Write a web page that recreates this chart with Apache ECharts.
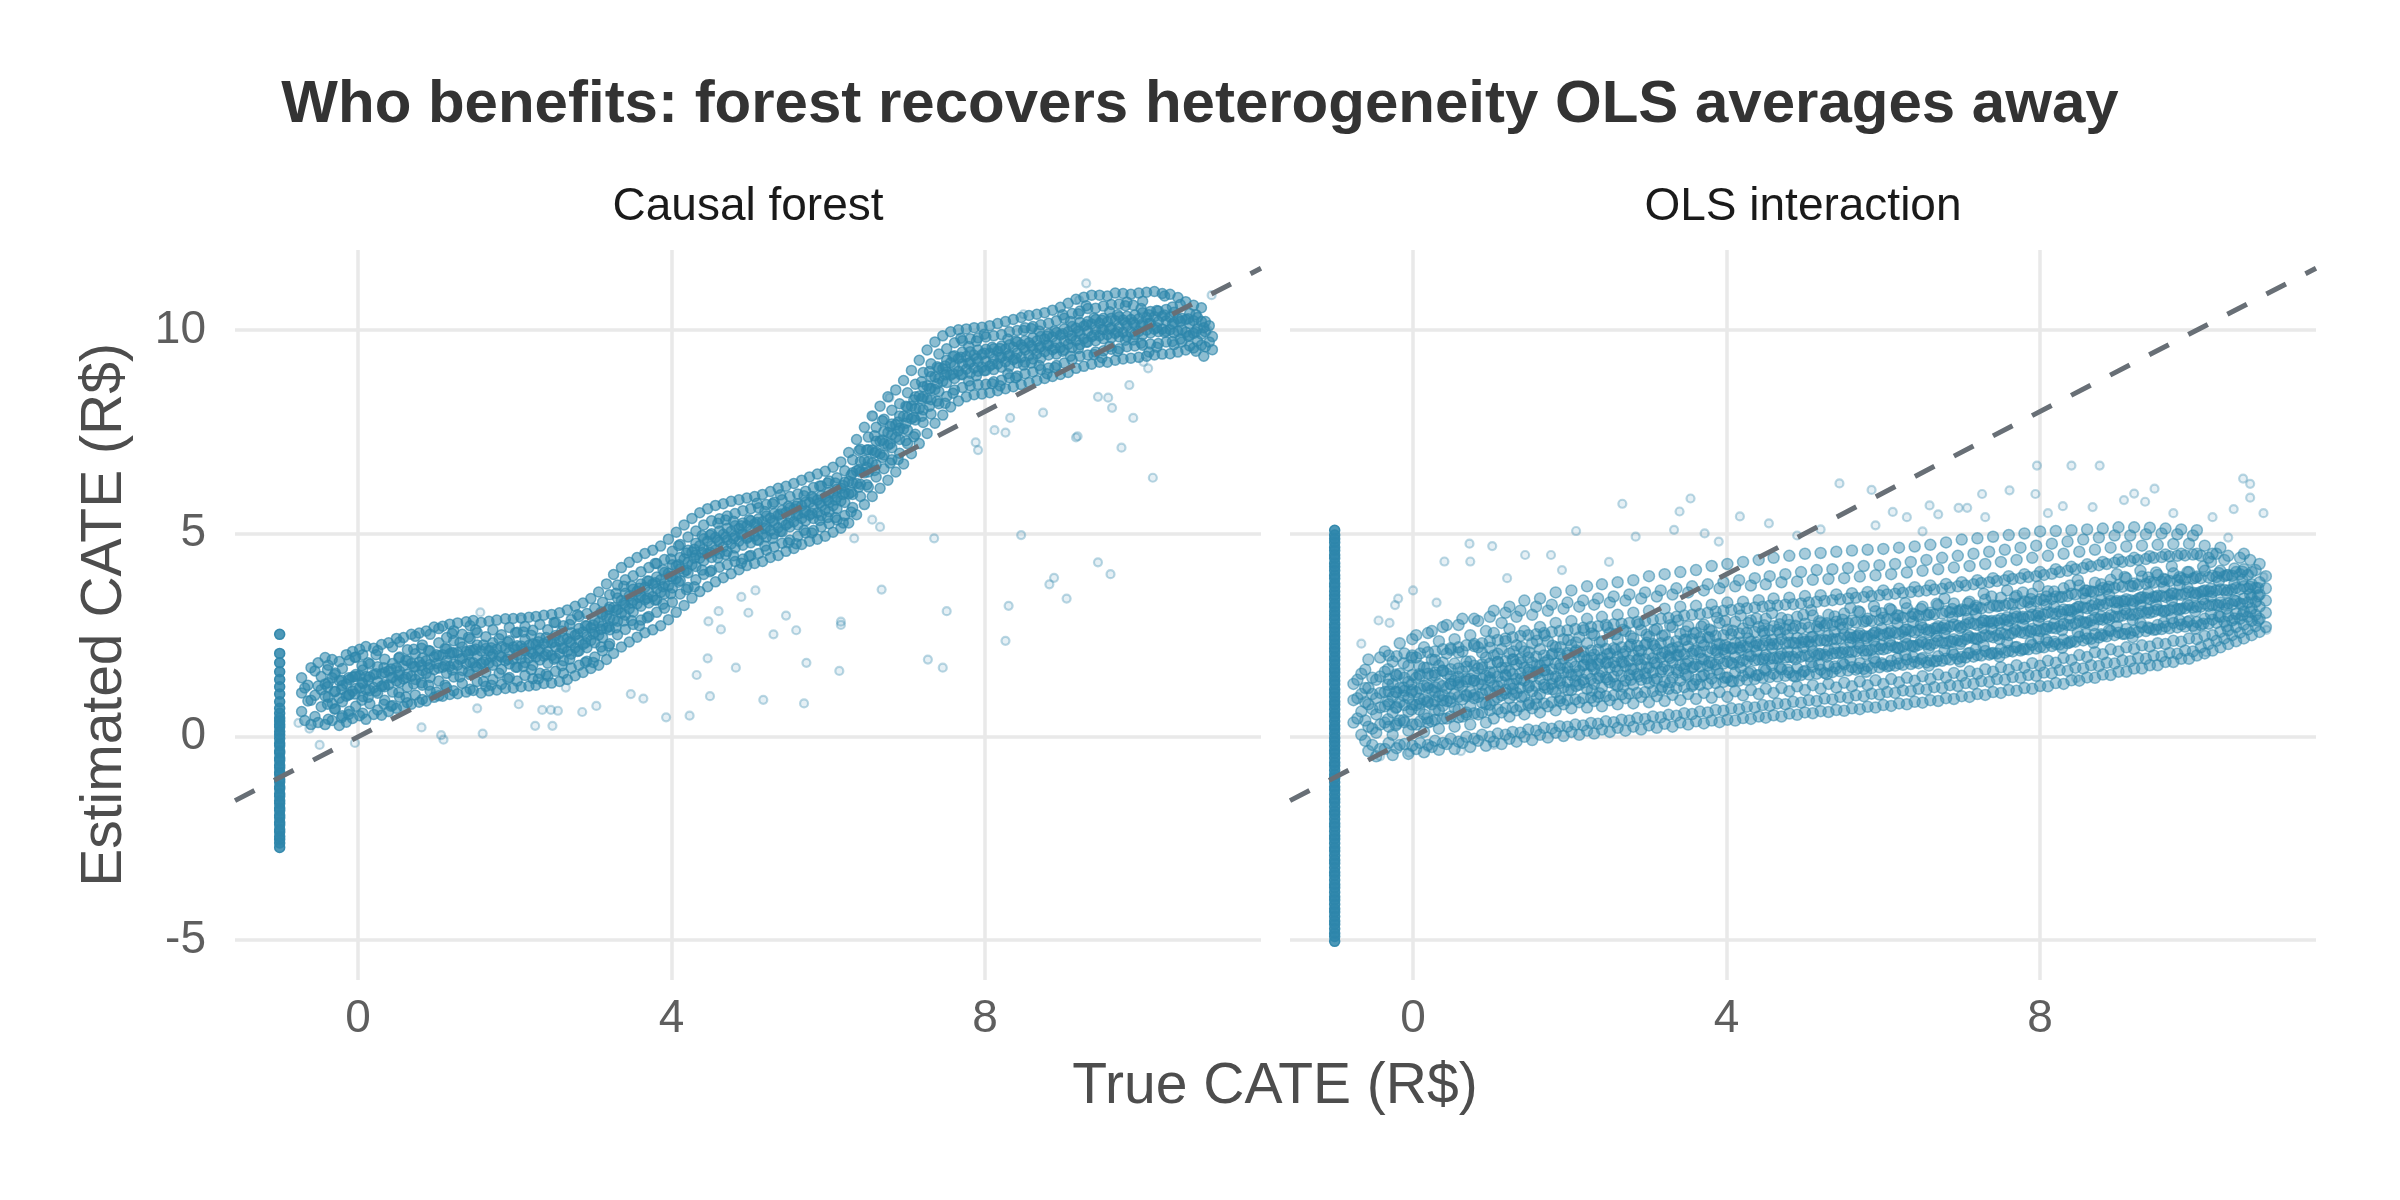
<!DOCTYPE html>
<html>
<head>
<meta charset="utf-8">
<script src="https://cdn.jsdelivr.net/npm/echarts@6/dist/echarts.min.js"></script>
<style>
  html, body { margin: 0; padding: 0; background: #fff; }
  #chart { width: 2400px; height: 1200px; }
</style>
</head>
<body>
<div id="chart"></div>
<script>
// axis ranges and ticks
const xMin = -1.57, xMax = 11.52;
const yMin = -5.98, yMax = 11.97;
const xTicks = [0, 4, 8];
const yTicks = [-5, 0, 5, 10];
const panelTitles = ['Causal forest', 'OLS interaction'];

// untreated units all sit at true CATE = -1
const ctrlX = -1;
const forestCtrlY = [2.52, 2.05, 1.82, 1.6, 1.41, 1.23, 1.05, 0.86, 0.7, 0.58,
  0.46, 0.39, 0.3, 0.24, 0.13, 0.05, -0.04, -0.16, -0.22, -0.35, -0.4, -0.52, -0.58, -0.7,
  -0.76, -0.87, -0.93, -1.05, -1.11, -1.23, -1.28, -1.4, -1.46, -1.57, -1.64, -1.75, -1.81,
  -1.93, -1.99, -2.1, -2.16, -2.28, -2.34, -2.45, -2.52, -2.61, -2.72];
const olsCtrlY = [5.08, 4.96, 4.87, 4.78, 4.66, 4.58, 4.47, 4.39, 4.27, 4.18, 4.09, 3.97,
  3.89, 3.77, 3.69, 3.58, 3.48, 3.39, 3.27, 3.19, 3.08, 2.98, 2.89, 2.77, 2.68, 2.58, 2.47,
  2.39, 2.28, 2.18, 2.09, 1.97, 1.88, 1.78, 1.67, 1.59, 1.48, 1.38, 1.29, 1.17, 1.08, 0.98,
  0.87, 0.79, 0.68, 0.57, 0.49, 0.38, 0.27, 0.19, 0.08, -0.03, -0.12, -0.22, -0.33, -0.41,
  -0.52, -0.63, -0.71, -0.82, -0.93, -1.01, -1.12, -1.23, -1.31, -1.42, -1.53, -1.61, -1.72,
  -1.83, -1.91, -2.02, -2.13, -2.21, -2.32, -2.43, -2.51, -2.62, -2.73, -2.81, -2.92, -3.03,
  -3.11, -3.22, -3.33, -3.41, -3.52, -3.63, -3.71, -3.82, -3.93, -4.01, -4.12, -4.23, -4.31,
  -4.42, -4.53, -4.61, -4.72, -4.83, -4.91, -5.03];

// causal forest cloud: each row is [true CATE, estimated CATE, estimated CATE, ...]
const forestCore = [
  [-0.72, 0.62, 1.08, 1.45], [-0.64, 0.88, 1.27], [-0.55, 0.5, 1.02, 1.62],
  [-0.47, 0.74, 1.16, 1.48], [-0.38, 0.43, 0.97, 1.33, 1.76], [-0.29, 0.69, 1.12, 1.57],
  [-0.2, 0.52, 0.86, 1.26, 1.68], [-0.11, 0.63, 1.04, 1.41, 1.88], [-0.03, 0.75, 1.19, 1.53, 1.96],
  [0.06, 0.58, 0.99, 1.31, 1.64, 2.02], [0.15, 0.81, 1.14, 1.47, 1.79], [0.25, 0.66, 1.07, 1.36, 1.72, 2.12],
  [0.34, 0.9, 1.23, 1.58, 1.91], [0.44, 0.77, 1.1, 1.46, 1.8, 2.21], [0.53, 0.97, 1.34, 1.61, 1.96, 2.33],
  [0.63, 0.84, 1.22, 1.54, 1.87, 2.14], [0.73, 1.03, 1.41, 1.72, 2.04, 2.47], [0.82, 0.92, 1.27, 1.63, 1.93, 2.26],
  [0.92, 1.12, 1.46, 1.78, 2.11, 2.52], [1.03, 1.01, 1.37, 1.69, 1.99, 2.31, 2.66], [1.13, 1.21, 1.56, 1.87, 2.16, 2.44],
  [1.22, 1.13, 1.47, 1.79, 2.06, 2.36, 2.61], [1.33, 1.31, 1.63, 1.93, 2.21, 2.52], [1.43, 1.17, 1.53, 1.84, 2.12, 2.41, 2.73],
  [1.52, 1.36, 1.71, 1.99, 2.26, 2.56], [1.63, 1.24, 1.59, 1.89, 2.17, 2.46], [1.72, 1.41, 1.76, 2.03, 2.31, 2.63],
  [1.83, 1.29, 1.66, 1.96, 2.22, 2.51], [1.93, 1.46, 1.79, 2.07, 2.36, 2.69], [2.03, 1.37, 1.71, 2.01, 2.24, 2.57],
  [2.13, 1.51, 1.83, 2.11, 2.39, 2.71], [2.23, 1.43, 1.76, 2.04, 2.29, 2.62], [2.32, 1.56, 1.89, 2.16, 2.43, 2.76],
  [2.42, 1.49, 1.81, 2.09, 2.34, 2.63], [2.52, 1.61, 1.94, 2.21, 2.49, 2.81], [2.62, 1.56, 1.87, 2.17, 2.43, 2.73],
  [2.72, 1.69, 2.03, 2.31, 2.56, 2.88], [2.82, 1.76, 2.11, 2.37, 2.66, 2.96], [2.92, 1.86, 2.19, 2.46, 2.73, 3.03],
  [3.02, 1.96, 2.31, 2.57, 2.86, 3.16], [3.12, 2.11, 2.44, 2.73, 3.01, 3.31], [3.21, 2.29, 2.63, 2.91, 3.19, 3.49],
  [3.31, 2.51, 2.84, 3.13, 3.41, 3.73], [3.41, 2.64, 2.99, 3.24, 3.53, 3.86], [3.51, 2.76, 3.07, 3.36, 3.63, 3.96],
  [3.61, 2.87, 3.21, 3.47, 3.76, 4.06], [3.71, 2.96, 3.29, 3.56, 3.83, 4.16], [3.81, 3.06, 3.37, 3.64, 3.93, 4.26],
  [3.91, 3.16, 3.51, 3.77, 4.04, 4.36], [4.01, 3.31, 3.66, 3.94, 4.23, 4.56], [4.11, 3.51, 3.84, 4.13, 4.41, 4.73],
  [4.21, 3.67, 4.03, 4.29, 4.59, 4.91], [4.31, 3.86, 4.19, 4.47, 4.76, 5.06], [4.41, 3.99, 4.33, 4.61, 4.87, 5.21],
  [4.51, 4.09, 4.41, 4.69, 4.99, 5.31], [4.61, 4.17, 4.51, 4.79, 5.06, 5.36], [4.71, 4.23, 4.56, 4.84, 5.13, 5.43],
  [4.81, 4.31, 4.64, 4.93, 5.19, 5.49], [4.91, 4.37, 4.71, 4.99, 5.26, 5.56], [5.01, 4.46, 4.77, 5.06, 5.31, 5.61],
  [5.11, 4.51, 4.83, 5.09, 5.36, 5.63], [5.21, 4.59, 4.91, 5.17, 5.43, 5.71], [5.31, 4.67, 4.99, 5.26, 5.49, 5.77],
  [5.41, 4.76, 5.04, 5.31, 5.57, 5.83], [5.51, 4.84, 5.16, 5.41, 5.63, 5.91], [5.61, 4.93, 5.21, 5.47, 5.73, 5.97],
  [5.71, 5.01, 5.31, 5.56, 5.77, 6.04], [5.81, 5.07, 5.37, 5.63, 5.86, 6.13], [5.91, 5.16, 5.44, 5.69, 5.93, 6.17],
  [6.01, 5.24, 5.53, 5.77, 6.01, 6.29], [6.11, 5.33, 5.61, 5.89, 6.09, 6.37], [6.21, 5.44, 5.76, 6.01, 6.26, 6.54],
  [6.31, 5.64, 5.96, 6.24, 6.49, 6.81], [6.41, 5.91, 6.21, 6.51, 6.77, 7.07], [6.51, 6.14, 6.51, 6.77, 7.06, 7.37],
  [6.61, 6.39, 6.69, 7.01, 7.27, 7.61], [6.71, 6.59, 6.93, 7.21, 7.51, 7.81], [6.81, 6.81, 7.11, 7.43, 7.69, 8.03],
  [6.91, 6.97, 7.31, 7.59, 7.89, 8.19], [7.01, 7.21, 7.54, 7.86, 8.11, 8.46], [7.11, 7.44, 7.79, 8.07, 8.36, 8.67],
  [7.21, 7.73, 8.04, 8.36, 8.61, 8.96], [7.31, 7.94, 8.29, 8.57, 8.86, 9.17], [7.41, 8.19, 8.49, 8.81, 9.07, 9.41],
  [7.51, 8.37, 8.71, 8.97, 9.26, 9.54], [7.61, 8.53, 8.81, 9.11, 9.37, 9.69], [7.71, 8.59, 8.91, 9.17, 9.46, 9.74],
  [7.81, 8.63, 8.94, 9.21, 9.47, 9.79], [7.91, 8.66, 8.99, 9.23, 9.51, 9.81], [8.01, 8.67, 9.01, 9.24, 9.53, 9.83],
  [8.11, 8.73, 9.03, 9.29, 9.54, 9.86], [8.21, 8.77, 9.09, 9.34, 9.61, 9.89], [8.31, 8.83, 9.11, 9.39, 9.64, 9.96],
  [8.41, 8.87, 9.19, 9.44, 9.71, 9.99], [8.51, 8.93, 9.21, 9.51, 9.74, 10.06], [8.61, 8.97, 9.29, 9.54, 9.81, 10.09],
  [8.71, 9.03, 9.31, 9.59, 9.84, 10.13], [8.81, 9.07, 9.39, 9.64, 9.91, 10.17], [8.91, 9.13, 9.41, 9.69, 9.94, 10.23],
  [9.01, 9.19, 9.51, 9.74, 10.03, 10.29], [9.11, 9.27, 9.57, 9.86, 10.09, 10.41], [9.21, 9.36, 9.64, 9.91, 10.19, 10.47],
  [9.31, 9.39, 9.71, 9.97, 10.21, 10.53], [9.41, 9.46, 9.74, 10.01, 10.26, 10.54], [9.51, 9.49, 9.79, 10.01, 10.29, 10.59],
  [9.61, 9.53, 9.81, 10.06, 10.29, 10.63], [9.71, 9.54, 9.83, 10.07, 10.33, 10.64], [9.81, 9.59, 9.84, 10.11, 10.34, 10.69],
  [9.91, 9.61, 9.89, 10.13, 10.37], [10.01, 9.63, 9.89, 10.16, 10.43, 10.71], [10.11, 9.66, 9.93, 10.17, 10.46],
  [10.21, 9.67, 9.96, 10.21, 10.47], [10.31, 9.71, 9.97, 10.23, 10.51], [10.41, 9.64, 9.93, 10.19, 10.44],
  [10.51, 9.71, 10.01, 10.29], [10.61, 9.61, 9.87, 10.16, 10.41], [10.71, 9.73, 10.04, 10.31],
  [10.81, 9.59, 9.96, 10.21], [10.9, 9.52, 9.84]
];
// looser points around the forest core, same row layout
const forestEdge = [
  [-0.68, 0.4, 1.2], [-0.6, 0.3, 0.9, 1.7], [-0.51, 0.35, 1.25, 1.82], [-0.42, 0.3, 1.0, 1.3, 1.95],
  [-0.33, 0.4, 0.82, 1.45, 1.9], [-0.24, 0.28, 0.95, 1.38, 1.85], [-0.15, 0.36, 1.0, 1.3, 2.02],
  [-0.07, 0.45, 1.12, 1.47, 2.1], [0.02, 0.52, 1.2, 1.5, 2.15], [0.1, 0.43, 1.16, 1.48, 2.22],
  [0.2, 0.55, 1.21, 1.53, 2.18], [0.3, 0.53, 1.24, 1.55, 2.27], [0.39, 0.62, 1.28, 1.62, 2.31],
  [0.49, 0.7, 1.37, 1.7, 2.42], [0.58, 0.74, 1.42, 1.75, 2.44], [0.68, 0.8, 1.49, 1.8, 2.52],
  [0.78, 0.85, 1.52, 1.84, 2.55], [0.87, 0.88, 1.56, 1.87, 2.6], [0.97, 0.97, 1.65, 1.96, 2.7],
  [1.08, 1.0, 1.71, 2.02, 2.72], [1.17, 1.04, 1.73, 2.04, 2.77], [1.27, 1.06, 1.76, 2.07, 2.8],
  [1.38, 1.1, 1.79, 2.1, 2.83], [1.47, 1.14, 1.82, 2.13, 2.86], [1.57, 1.08, 1.8, 2.11, 2.81],
  [1.67, 1.13, 1.81, 2.12, 2.84], [1.77, 1.15, 1.86, 2.16, 2.87], [1.88, 1.19, 1.87, 2.18, 2.9],
  [1.98, 1.2, 1.9, 2.21, 2.91], [2.08, 1.23, 1.92, 2.23, 2.92], [2.18, 1.25, 1.94, 2.25, 2.94],
  [2.27, 1.27, 1.96, 2.27, 2.96], [2.37, 1.31, 1.98, 2.29, 2.99], [2.47, 1.32, 2.0, 2.31, 3.01],
  [2.57, 1.36, 2.05, 2.35, 3.05], [2.67, 1.41, 2.1, 2.41, 3.12], [2.77, 1.5, 2.19, 2.5, 3.21],
  [2.87, 1.58, 2.27, 2.58, 3.29], [2.97, 1.68, 2.37, 2.68, 3.4], [3.07, 1.76, 2.5, 2.81, 3.56],
  [3.17, 1.9, 2.67, 2.98, 3.76], [3.26, 2.05, 2.87, 3.18, 3.99], [3.36, 2.21, 3.04, 3.35, 4.16],
  [3.46, 2.33, 3.15, 3.46, 4.29], [3.56, 2.45, 3.27, 3.58, 4.41], [3.66, 2.56, 3.37, 3.68, 4.51],
  [3.76, 2.63, 3.45, 3.76, 4.59], [3.86, 2.73, 3.55, 3.86, 4.69], [3.96, 2.88, 3.71, 4.02, 4.86],
  [4.06, 3.06, 3.89, 4.2, 5.03], [4.16, 3.23, 4.06, 4.37, 5.21], [4.26, 3.41, 4.23, 4.54, 5.37],
  [4.36, 3.57, 4.39, 4.7, 5.51], [4.46, 3.69, 4.5, 4.81, 5.61], [4.56, 3.81, 4.59, 4.9, 5.69],
  [4.66, 3.91, 4.67, 4.98, 5.73], [4.76, 4.01, 4.74, 5.05, 5.79], [4.86, 4.11, 4.81, 5.12, 5.83],
  [4.96, 4.21, 4.88, 5.19, 5.87], [5.06, 4.26, 4.93, 5.24, 5.91], [5.16, 4.31, 4.98, 5.29, 5.96],
  [5.26, 4.41, 5.07, 5.38, 6.03], [5.36, 4.46, 5.14, 5.45, 6.11], [5.46, 4.56, 5.21, 5.52, 6.16],
  [5.56, 4.63, 5.29, 5.6, 6.23], [5.66, 4.73, 5.37, 5.68, 6.31], [5.76, 4.81, 5.45, 5.76, 6.39],
  [5.86, 4.86, 5.51, 5.82, 6.46], [5.96, 4.93, 5.58, 5.89, 6.53], [6.06, 5.03, 5.68, 5.99, 6.63],
  [6.16, 5.13, 5.8, 6.11, 6.76], [6.26, 5.26, 5.97, 6.28, 6.99], [6.36, 5.46, 6.23, 6.54, 7.31],
  [6.46, 5.71, 6.49, 6.8, 7.61], [6.56, 5.91, 6.74, 7.05, 7.89], [6.66, 6.11, 6.96, 7.27, 8.13],
  [6.76, 6.31, 7.17, 7.48, 8.36], [6.86, 6.51, 7.36, 7.67, 8.53], [6.96, 6.71, 7.57, 7.88, 8.76],
  [7.06, 6.96, 7.82, 8.13, 9.01], [7.16, 7.21, 8.07, 8.38, 9.26], [7.26, 7.46, 8.32, 8.63, 9.51],
  [7.36, 7.71, 8.54, 8.85, 9.71], [7.46, 7.91, 8.74, 9.05, 9.86], [7.56, 8.11, 8.89, 9.2, 9.96],
  [7.66, 8.26, 8.99, 9.3, 10.01], [7.76, 8.36, 9.04, 9.35, 10.03], [7.86, 8.41, 9.07, 9.38, 10.06],
  [7.96, 8.43, 9.09, 9.4, 10.07], [8.06, 8.46, 9.12, 9.43, 10.11], [8.16, 8.51, 9.17, 9.48, 10.16],
  [8.26, 8.56, 9.22, 9.53, 10.21], [8.36, 8.61, 9.27, 9.58, 10.26], [8.46, 8.66, 9.33, 9.64, 10.31],
  [8.56, 8.71, 9.38, 9.69, 10.36], [8.66, 8.76, 9.42, 9.73, 10.39], [8.76, 8.81, 9.47, 9.78, 10.43],
  [8.86, 8.86, 9.52, 9.83, 10.49], [8.96, 8.91, 9.57, 9.88, 10.56], [9.06, 8.96, 9.65, 9.96, 10.66],
  [9.16, 9.06, 9.74, 10.05, 10.76], [9.26, 9.11, 9.79, 10.1, 10.81], [9.36, 9.16, 9.84, 10.15, 10.86],
  [9.46, 9.21, 9.86, 10.17, 10.86], [9.56, 9.21, 9.89, 10.2, 10.84], [9.66, 9.26, 9.92, 10.23, 10.91],
  [9.76, 9.29, 9.94, 10.25, 10.9], [9.86, 9.31, 9.95, 10.26, 10.88], [9.96, 9.33, 9.97, 10.28, 10.91],
  [10.06, 9.36, 10.0, 10.31, 10.93], [10.16, 9.39, 10.02, 10.33, 10.95], [10.26, 9.41, 10.03, 10.34, 10.9],
  [10.36, 9.42, 10.01, 10.32, 10.88], [10.46, 9.46, 9.97, 10.28, 10.8], [10.56, 9.51, 9.95, 10.26, 10.7],
  [10.66, 9.56, 9.92, 10.23, 10.61], [10.76, 9.63, 9.9, 10.21, 10.55], [10.86, 9.71, 10.11]
];
// more forest points in between, same row layout
const forestMid = [
  [-0.39, 0.8, 1.23, 1.65], [-0.3, 0.68, 1.11, 1.53], [-0.21, 0.47, 1.17, 1.39], [-0.12, 0.55, 1.03, 1.45],
  [-0.04, 1.05, 1.48, 1.95], [0.05, 0.9, 1.33, 1.75], [0.13, 0.97, 1.4, 1.82], [0.23, 1.12, 1.55, 2.02],
  [0.33, 0.8, 1.28, 1.7], [0.42, 0.75, 1.45, 1.67], [0.52, 1.09, 1.52, 1.94], [0.61, 0.98, 1.46, 1.88],
  [0.71, 1.3, 1.73, 2.15], [0.81, 1.33, 1.76, 2.18], [0.9, 1.27, 1.7, 2.12], [1.0, 1.1, 1.8, 2.02],
  [1.11, 1.27, 1.75, 2.17], [1.2, 1.64, 2.07, 2.54], [1.3, 1.47, 1.9, 2.32], [1.41, 1.6, 2.03, 2.45],
  [1.5, 1.73, 2.16, 2.63], [1.6, 1.36, 1.84, 2.26], [1.7, 1.27, 1.97, 2.19], [1.8, 1.56, 1.99, 2.41],
  [1.91, 1.43, 1.91, 2.33], [2.01, 1.71, 2.14, 2.56], [2.11, 1.73, 2.16, 2.58], [2.21, 1.65, 2.08, 2.5],
  [2.3, 1.42, 2.12, 2.34], [2.4, 1.54, 2.02, 2.44], [2.5, 1.91, 2.34, 2.81], [2.6, 1.75, 2.18, 2.6],
  [2.7, 1.91, 2.34, 2.76], [2.8, 2.1, 2.53, 3.0], [2.9, 1.83, 2.31, 2.73], [3.0, 1.83, 2.53, 2.75],
  [3.1, 2.21, 2.64, 3.06], [3.2, 2.23, 2.71, 3.13], [3.29, 2.68, 3.11, 3.53], [3.39, 2.85, 3.28, 3.7],
  [3.49, 2.86, 3.29, 3.71], [3.59, 2.73, 3.43, 3.65], [3.69, 2.93, 3.41, 3.83], [3.79, 3.36, 3.79, 4.26],
  [3.89, 3.26, 3.69, 4.11], [3.99, 3.52, 3.95, 4.37], [4.09, 3.8, 4.23, 4.7], [4.19, 3.62, 4.1, 4.52],
  [4.29, 3.69, 4.39, 4.61], [4.39, 4.1, 4.53, 4.95], [4.49, 4.06, 4.54, 4.96], [4.59, 4.4, 4.83, 5.25],
  [4.69, 4.48, 4.91, 5.33], [4.79, 4.45, 4.88, 5.3], [4.89, 4.27, 4.97, 5.19], [4.99, 4.44, 4.92, 5.34],
  [5.09, 4.84, 5.27, 5.74], [5.19, 4.69, 5.12, 5.54], [5.29, 4.88, 5.31, 5.73], [5.39, 5.05, 5.48, 5.95],
  [5.49, 4.77, 5.25, 5.67], [5.59, 4.75, 5.45, 5.67], [5.69, 5.08, 5.51, 5.93], [5.79, 5.01, 5.49, 5.91],
  [5.89, 5.32, 5.75, 6.17], [5.99, 5.39, 5.82, 6.24], [6.09, 5.39, 5.82, 6.24], [6.19, 5.26, 5.96, 6.18],
  [6.29, 5.53, 6.01, 6.43], [6.39, 6.14, 6.57, 7.04], [6.49, 6.2, 6.63, 7.05], [6.59, 6.55, 6.98, 7.4],
  [6.69, 6.87, 7.3, 7.77], [6.79, 6.73, 7.21, 7.63], [6.89, 6.82, 7.52, 7.74], [6.99, 7.28, 7.71, 8.13],
  [7.09, 7.38, 7.86, 8.28], [7.19, 7.88, 8.31, 8.73], [7.29, 8.13, 8.56, 8.98], [7.39, 8.25, 8.68, 9.1],
  [7.49, 8.2, 8.9, 9.12], [7.59, 8.45, 8.93, 9.35], [7.69, 8.9, 9.33, 9.8], [7.79, 8.75, 9.18, 9.6],
  [7.89, 8.88, 9.31, 9.73], [7.99, 9.0, 9.43, 9.9], [8.09, 8.68, 9.16, 9.58], [8.19, 8.63, 9.33, 9.55],
  [8.29, 8.93, 9.36, 9.78], [8.39, 8.83, 9.31, 9.73], [8.49, 9.14, 9.57, 9.99], [8.59, 9.19, 9.62, 10.04],
  [8.69, 9.13, 9.56, 9.98], [8.79, 8.93, 9.63, 9.85], [8.89, 9.08, 9.56, 9.98], [8.99, 9.48, 9.91, 10.38],
  [9.09, 9.36, 9.79, 10.21], [9.19, 9.55, 9.98, 10.4], [9.29, 9.7, 10.13, 10.6], [9.39, 9.4, 9.88, 10.3],
  [9.49, 9.32, 10.02, 10.24], [9.59, 9.6, 10.03, 10.45], [9.69, 9.48, 9.96, 10.38], [9.79, 9.75, 10.18, 10.6],
  [9.89, 9.76, 10.19, 10.61], [9.99, 9.68, 10.11, 10.53], [10.09, 9.46, 10.16, 10.38], [10.19, 9.58, 10.06, 10.48],
  [10.29, 9.94, 10.37, 10.84], [10.39, 9.72, 10.15, 10.57], [10.49, 9.78, 10.21, 10.63], [10.59, 9.85, 10.28],
  [10.69, 9.48, 9.96, 10.38], [10.79, 9.36, 10.06]
];
const forestStray = [
  [-0.76, 0.34], [-0.62, 0.2], [-0.49, -0.2], [-0.04, -0.15], [0.81, 0.23], [1.06, 0.04], [1.09, -0.07],
  [1.52, 0.7], [1.56, 3.06], [1.59, 0.08], [2.05, 0.8], [2.08, 2.9], [2.26, 0.27], [2.35, 0.66],
  [2.46, 0.66], [2.48, 0.27], [2.55, 0.64], [2.65, 1.21], [2.86, 0.61], [3.04, 0.76], [3.48, 1.05],
  [3.64, 0.94], [3.93, 0.48], [4.23, 0.52], [4.32, 1.52], [4.46, 1.93], [4.47, 2.84], [4.49, 1.0],
  [4.6, 3.09], [4.63, 2.64], [4.82, 1.7], [4.89, 3.44], [4.98, 3.05], [5.07, 3.6], [5.17, 0.91],
  [5.3, 2.52], [5.46, 2.98], [5.59, 2.62], [5.69, 0.82], [5.72, 1.82], [6.14, 1.62], [6.16, 2.83],
  [6.16, 2.75], [6.33, 4.88], [6.56, 5.34], [6.66, 5.16], [6.57, 7.89], [6.68, 3.62], [6.78, 8.34],
  [7.27, 1.9], [7.35, 4.88], [7.46, 1.7], [7.51, 3.09], [7.88, 7.24], [7.91, 7.05], [8.12, 7.54],
  [8.26, 7.48], [8.26, 2.36], [8.3, 3.22], [8.32, 7.84], [8.46, 4.96], [8.49, 10.39], [8.74, 7.97],
  [8.82, 3.75], [8.88, 3.91], [9.04, 3.4], [9.16, 7.36], [9.18, 7.39], [9.2, 10.74], [9.29, 11.15],
  [9.44, 8.36], [9.44, 4.29], [9.57, 8.34], [9.6, 4.0], [9.62, 8.09], [9.74, 7.11], [9.84, 8.65],
  [9.89, 7.84], [10.02, 9.22], [10.08, 9.06], [10.14, 6.37], [10.84, 10.0], [10.89, 10.86]
];

// OLS interaction cloud, same row layout
const olsCore = [
  [-0.76, 0.35, 0.9, 1.3], [-0.66, 0.05, 0.62, 1.05, 1.55], [-0.57, -0.35, 0.25, 0.8, 1.2, 1.9],
  [-0.47, -0.48, 0.1, 0.55, 0.95, 1.4], [-0.36, -0.3, 0.35, 0.75, 1.1, 1.6, 2.1],
  [-0.26, -0.45, 0.05, 0.6, 0.98, 1.3, 1.85], [-0.17, -0.2, 0.4, 0.85, 1.2, 1.55, 2.3],
  [-0.06, -0.42, 0.15, 0.62, 0.95, 1.35, 1.75], [0.04, -0.3, 0.3, 0.78, 1.1, 1.45, 1.95, 2.5],
  [0.14, -0.38, 0.12, 0.55, 0.92, 1.25, 1.7, 2.2], [0.24, -0.25, 0.38, 0.8, 1.15, 1.5, 1.9, 2.6],
  [0.33, -0.32, 0.2, 0.65, 1.0, 1.3, 1.75, 2.35], [0.43, -0.18, 0.45, 0.88, 1.2, 1.55, 2.05, 2.75],
  [0.53, -0.3, 0.25, 0.7, 1.05, 1.38, 1.8, 2.4], [0.63, -0.15, 0.5, 0.92, 1.25, 1.6, 2.1, 2.9],
  [0.73, -0.25, 0.3, 0.75, 1.1, 1.42, 1.85, 2.5], [0.83, -0.1, 0.55, 0.98, 1.3, 1.68, 2.2, 2.85],
  [0.93, -0.22, 0.35, 0.8, 1.15, 1.5, 1.95, 2.6], [1.03, -0.12, 0.45, 0.9, 1.25, 1.58, 2.0, 2.55, 3.1],
  [1.13, -0.18, 0.6, 1.02, 1.35, 1.7, 2.15, 2.8], [1.23, -0.05, 0.5, 0.95, 1.3, 1.62, 2.05, 2.65, 3.2],
  [1.32, -0.12, 0.65, 1.08, 1.42, 1.78, 2.25, 2.95], [1.42, 0.0, 0.55, 1.0, 1.38, 1.7, 2.1, 2.6, 3.35],
  [1.52, -0.08, 0.7, 1.12, 1.48, 1.82, 2.3, 3.0], [1.62, 0.05, 0.6, 1.05, 1.42, 1.75, 2.15, 2.7, 3.4],
  [1.72, -0.02, 0.75, 1.18, 1.52, 1.88, 2.35, 3.1], [1.82, 0.1, 0.65, 1.1, 1.48, 1.8, 2.2, 2.8, 3.55],
  [1.92, 0.02, 0.8, 1.22, 1.58, 1.92, 2.4, 3.15], [2.02, 0.12, 0.7, 1.15, 1.52, 1.85, 2.25, 2.85, 3.6],
  [2.12, 0.05, 0.85, 1.28, 1.62, 1.98, 2.45, 3.2], [2.22, 0.15, 0.72, 1.18, 1.55, 1.9, 2.3, 2.9, 3.7],
  [2.31, 0.08, 0.88, 1.3, 1.66, 2.02, 2.5, 3.25], [2.41, 0.18, 0.75, 1.22, 1.6, 1.94, 2.35, 2.95, 3.75],
  [2.51, 0.12, 0.9, 1.34, 1.7, 2.05, 2.55, 3.3], [2.61, 0.22, 0.8, 1.25, 1.63, 1.97, 2.4, 3.0, 3.8],
  [2.71, 0.15, 0.95, 1.38, 1.74, 2.1, 2.6, 3.35], [2.81, 0.25, 0.82, 1.28, 1.66, 2.0, 2.42, 3.05, 3.85],
  [2.91, 0.18, 0.98, 1.4, 1.77, 2.12, 2.62, 3.4], [3.01, 0.28, 0.85, 1.32, 1.7, 2.04, 2.46, 3.1, 3.95],
  [3.11, 0.22, 1.0, 1.43, 1.8, 2.15, 2.65, 3.45], [3.21, 0.32, 0.88, 1.35, 1.73, 2.08, 2.5, 3.15, 4.0],
  [3.31, 0.25, 1.03, 1.46, 1.83, 2.18, 2.7, 3.5], [3.41, 0.35, 0.9, 1.38, 1.76, 2.1, 2.53, 3.2, 4.05],
  [3.51, 0.3, 1.05, 1.49, 1.86, 2.22, 2.72, 3.55], [3.61, 0.38, 0.93, 1.4, 1.78, 2.13, 2.56, 3.22, 4.1],
  [3.71, 0.33, 1.08, 1.52, 1.9, 2.25, 2.76, 3.6], [3.81, 0.4, 0.96, 1.43, 1.82, 2.17, 2.6, 3.25, 4.2],
  [3.91, 0.36, 1.1, 1.55, 1.93, 2.28, 2.8, 3.65], [4.01, 0.42, 0.98, 1.46, 1.85, 2.2, 2.63, 3.3, 4.25],
  [4.11, 0.4, 1.12, 1.58, 1.96, 2.31, 2.83, 3.7], [4.21, 0.46, 1.02, 1.5, 1.88, 2.23, 2.66, 3.32, 4.3],
  [4.31, 0.44, 1.15, 1.6, 1.98, 2.34, 2.86, 3.72], [4.41, 0.5, 1.05, 1.52, 1.9, 2.26, 2.7, 3.36, 4.35],
  [4.5, 0.47, 1.18, 1.63, 2.01, 2.37, 2.9, 3.75], [4.6, 0.53, 1.08, 1.55, 1.93, 2.28, 2.72, 3.4, 4.4],
  [4.7, 0.5, 1.2, 1.66, 2.04, 2.4, 2.92, 3.8], [4.8, 0.57, 1.12, 1.58, 1.96, 2.31, 2.75, 3.42, 4.45],
  [4.9, 0.54, 1.24, 1.69, 2.07, 2.43, 2.95, 3.82], [5.0, 0.6, 1.15, 1.62, 2.0, 2.34, 2.78, 3.46, 4.5],
  [5.1, 0.58, 1.27, 1.72, 2.1, 2.46, 2.98, 3.86], [5.2, 0.63, 1.18, 1.65, 2.03, 2.37, 2.8, 3.48, 4.52],
  [5.3, 0.61, 1.3, 1.75, 2.13, 2.48, 3.0, 3.88], [5.4, 0.66, 1.21, 1.68, 2.06, 2.4, 2.83, 3.5, 4.55],
  [5.5, 0.64, 1.33, 1.78, 2.16, 2.51, 3.03, 3.9], [5.6, 0.7, 1.24, 1.71, 2.09, 2.43, 2.86, 3.53, 4.58],
  [5.7, 0.68, 1.36, 1.81, 2.19, 2.54, 3.06, 3.94], [5.8, 0.74, 1.27, 1.74, 2.12, 2.46, 2.9, 3.56, 4.6],
  [5.9, 0.72, 1.39, 1.84, 2.22, 2.57, 3.09, 3.97], [6.0, 0.78, 1.3, 1.77, 2.15, 2.5, 2.93, 3.6, 4.62],
  [6.1, 0.76, 1.42, 1.87, 2.25, 2.6, 3.12, 4.0], [6.2, 0.82, 1.34, 1.8, 2.18, 2.53, 2.97, 3.64, 4.65],
  [6.3, 0.8, 1.45, 1.9, 2.28, 2.64, 3.16, 4.04], [6.4, 0.86, 1.38, 1.84, 2.22, 2.57, 3.01, 3.68, 4.68],
  [6.5, 0.84, 1.49, 1.94, 2.32, 2.68, 3.2, 4.08], [6.6, 0.9, 1.42, 1.88, 2.26, 2.61, 3.05, 3.72, 4.72],
  [6.7, 0.88, 1.53, 1.98, 2.36, 2.72, 3.24, 4.12], [6.8, 0.95, 1.46, 1.92, 2.3, 2.65, 3.09, 3.76, 4.78],
  [6.9, 0.93, 1.57, 2.02, 2.4, 2.76, 3.28, 4.16], [7.0, 1.0, 1.5, 1.96, 2.35, 2.7, 3.13, 3.8, 4.85],
  [7.1, 0.98, 1.61, 2.06, 2.45, 2.8, 3.32, 4.2], [7.2, 1.05, 1.55, 2.01, 2.4, 2.75, 3.18, 3.85, 4.88],
  [7.3, 1.03, 1.66, 2.11, 2.5, 2.85, 3.37, 4.25], [7.4, 1.1, 1.6, 2.06, 2.45, 2.8, 3.23, 3.9, 4.92],
  [7.5, 1.08, 1.71, 2.16, 2.55, 2.9, 3.42, 4.3], [7.6, 1.15, 1.65, 2.11, 2.5, 2.85, 3.28, 3.95, 4.96],
  [7.7, 1.13, 1.76, 2.21, 2.6, 2.95, 3.47, 4.35], [7.8, 1.2, 1.7, 2.16, 2.55, 2.9, 3.33, 4.0, 5.0],
  [7.9, 1.18, 1.81, 2.26, 2.65, 3.0, 3.52, 4.4], [8.0, 1.25, 1.75, 2.21, 2.6, 2.95, 3.38, 4.05, 5.05],
  [8.1, 1.24, 1.87, 2.32, 2.71, 3.06, 3.58, 4.45], [8.2, 1.32, 1.82, 2.28, 2.67, 3.02, 3.45, 4.12, 5.06],
  [8.3, 1.3, 1.94, 2.39, 2.78, 3.13, 3.65, 4.5], [8.4, 1.39, 1.89, 2.35, 2.74, 3.09, 3.52, 4.18, 5.08],
  [8.5, 1.38, 2.01, 2.46, 2.85, 3.2, 3.72, 4.55], [8.6, 1.46, 1.96, 2.42, 2.81, 3.16, 3.59, 4.24, 5.1],
  [8.7, 1.45, 2.08, 2.53, 2.92, 3.27, 3.79, 4.6], [8.8, 1.53, 2.03, 2.49, 2.88, 3.23, 3.66, 4.3, 5.12],
  [8.9, 1.52, 2.15, 2.6, 2.99, 3.34, 3.86, 4.65], [9.0, 1.6, 2.1, 2.56, 2.95, 3.3, 3.73, 4.36, 5.15],
  [9.1, 1.6, 2.2, 2.65, 3.03, 3.38, 3.9, 4.68], [9.2, 1.68, 2.16, 2.61, 3.0, 3.34, 3.77, 4.4, 5.15],
  [9.3, 1.68, 2.25, 2.7, 3.08, 3.43, 3.94, 4.7], [9.4, 1.76, 2.22, 2.66, 3.05, 3.39, 3.81, 4.44, 5.14],
  [9.5, 1.76, 2.3, 2.75, 3.13, 3.47, 3.98, 4.72], [9.6, 1.84, 2.28, 2.71, 3.1, 3.44, 3.86, 4.48, 5.12],
  [9.7, 1.84, 2.36, 2.8, 3.18, 3.52, 4.02, 4.74], [9.8, 1.92, 2.34, 2.76, 3.15, 3.49, 3.9, 4.5, 5.1],
  [9.9, 1.92, 2.42, 2.85, 3.23, 3.56, 4.05, 4.75], [10.0, 2.0, 2.4, 2.82, 3.2, 3.53, 3.94, 4.5, 5.08],
  [10.1, 2.05, 2.48, 2.9, 3.27, 3.6, 4.08, 4.7], [10.2, 2.12, 2.5, 2.88, 3.24, 3.56, 3.96, 4.5],
  [10.3, 2.2, 2.58, 2.95, 3.3, 3.62, 4.08, 4.65], [10.4, 2.28, 2.62, 2.98, 3.28, 3.6, 3.98, 4.45],
  [10.5, 2.35, 2.7, 3.02, 3.34, 3.66, 4.05], [10.6, 2.42, 2.76, 3.08, 3.4, 3.7, 4.12, 4.5],
  [10.7, 2.5, 2.85, 3.15, 3.42, 3.75, 4.05], [10.8, 2.58, 2.9, 3.2, 3.5, 3.8, 4.25],
  [10.88, 2.7, 3.05, 3.35, 3.65, 3.95]
];
const olsFill = [
  [-0.71, 0.45, 0.95, 1.4], [-0.61, -0.1, 0.4, 0.85, 1.2, 1.65], [-0.52, -0.2, 0.2, 0.68, 1.05, 1.45],
  [-0.42, -0.3, 0.3, 0.72, 1.08, 1.48, 1.95], [-0.31, -0.15, 0.25, 0.8, 1.12, 1.42, 2.0],
  [-0.21, -0.28, 0.32, 0.73, 1.1, 1.5, 1.98], [-0.11, -0.18, 0.36, 0.78, 1.13, 1.45, 2.05],
  [-0.01, -0.22, 0.3, 0.8, 1.15, 1.52, 2.0, 2.4], [0.09, -0.15, 0.38, 0.82, 1.18, 1.5, 2.05],
  [0.19, -0.2, 0.35, 0.85, 1.2, 1.55, 2.08, 2.55], [0.28, -0.1, 0.42, 0.88, 1.22, 1.58, 2.1],
  [0.38, -0.15, 0.45, 0.9, 1.25, 1.62, 2.15, 2.7], [0.48, -0.05, 0.5, 0.95, 1.3, 1.66, 2.18],
  [0.58, -0.12, 0.48, 0.98, 1.33, 1.68, 2.2, 2.75], [0.68, 0.0, 0.55, 1.0, 1.36, 1.72, 2.25],
  [0.78, -0.05, 0.58, 1.03, 1.38, 1.75, 2.28, 2.9], [0.88, 0.05, 0.6, 1.06, 1.42, 1.78, 2.3],
  [0.98, 0.0, 0.65, 1.1, 1.45, 1.8, 2.35, 2.95], [1.08, 0.08, 0.68, 1.12, 1.48, 1.84, 2.38],
  [1.18, 0.05, 0.7, 1.16, 1.52, 1.86, 2.42, 3.05], [1.27, 0.12, 0.72, 1.18, 1.54, 1.9, 2.45],
  [1.37, 0.1, 0.75, 1.2, 1.56, 1.92, 2.48, 3.1], [1.47, 0.18, 0.78, 1.22, 1.58, 1.95, 2.5],
  [1.57, 0.15, 0.8, 1.25, 1.6, 1.97, 2.52, 3.2], [1.67, 0.22, 0.82, 1.28, 1.63, 2.0, 2.55],
  [1.77, 0.2, 0.85, 1.3, 1.66, 2.02, 2.58, 3.25], [1.87, 0.26, 0.88, 1.32, 1.68, 2.04, 2.6],
  [1.97, 0.25, 0.9, 1.35, 1.7, 2.06, 2.62, 3.3], [2.07, 0.3, 0.92, 1.37, 1.72, 2.08, 2.65],
  [2.17, 0.28, 0.95, 1.4, 1.75, 2.1, 2.68, 3.35], [2.27, 0.34, 0.96, 1.42, 1.77, 2.12, 2.7],
  [2.36, 0.32, 0.98, 1.44, 1.79, 2.14, 2.72, 3.4], [2.46, 0.38, 1.0, 1.46, 1.81, 2.16, 2.75],
  [2.56, 0.36, 1.02, 1.48, 1.83, 2.18, 2.77, 3.45], [2.66, 0.42, 1.04, 1.5, 1.85, 2.2, 2.78],
  [2.76, 0.4, 1.06, 1.52, 1.87, 2.22, 2.8, 3.5], [2.86, 0.46, 1.08, 1.54, 1.89, 2.24, 2.82],
  [2.96, 0.44, 1.1, 1.56, 1.91, 2.26, 2.85, 3.55], [3.06, 0.5, 1.12, 1.58, 1.93, 2.28, 2.88],
  [3.16, 0.48, 1.15, 1.6, 1.95, 2.3, 2.9, 3.6], [3.26, 0.54, 1.18, 1.63, 1.98, 2.33, 2.92],
  [3.36, 0.52, 1.2, 1.65, 2.0, 2.35, 2.95, 3.65], [3.46, 0.58, 1.22, 1.68, 2.03, 2.38, 2.98],
  [3.56, 0.56, 1.25, 1.7, 2.05, 2.4, 3.0, 3.7], [3.66, 0.62, 1.28, 1.73, 2.08, 2.43, 3.02],
  [3.76, 0.6, 1.3, 1.75, 2.1, 2.45, 3.05, 3.75], [3.86, 0.66, 1.32, 1.78, 2.13, 2.48, 3.08],
  [3.96, 0.64, 1.35, 1.8, 2.15, 2.5, 3.1, 3.8], [4.06, 0.7, 1.37, 1.82, 2.17, 2.52, 3.12],
  [4.16, 0.68, 1.38, 1.84, 2.19, 2.54, 3.15, 3.85], [4.26, 0.74, 1.4, 1.86, 2.21, 2.56, 3.16],
  [4.36, 0.72, 1.42, 1.88, 2.23, 2.58, 3.18, 3.9], [4.46, 0.78, 1.45, 1.9, 2.25, 2.6, 3.2],
  [4.55, 0.76, 1.47, 1.92, 2.27, 2.62, 3.22, 3.95], [4.65, 0.82, 1.48, 1.93, 2.28, 2.63, 3.23],
  [4.75, 0.8, 1.5, 1.95, 2.3, 2.65, 3.25, 4.0], [4.85, 0.86, 1.5, 1.96, 2.31, 2.66, 3.26],
  [4.95, 0.84, 1.52, 1.97, 2.32, 2.67, 3.28, 4.05], [5.05, 0.9, 1.53, 1.98, 2.34, 2.69, 3.3],
  [5.15, 0.88, 1.55, 2.0, 2.36, 2.71, 3.32, 4.1], [5.25, 0.94, 1.57, 2.02, 2.38, 2.73, 3.34],
  [5.35, 0.92, 1.59, 2.04, 2.4, 2.75, 3.36, 4.12], [5.45, 0.98, 1.61, 2.06, 2.42, 2.77, 3.38],
  [5.55, 0.96, 1.63, 2.08, 2.44, 2.79, 3.4, 4.15], [5.65, 1.02, 1.65, 2.1, 2.46, 2.81, 3.42],
  [5.75, 1.0, 1.67, 2.12, 2.48, 2.83, 3.44, 4.2], [5.85, 1.06, 1.69, 2.14, 2.5, 2.85, 3.46],
  [5.95, 1.04, 1.71, 2.16, 2.52, 2.87, 3.48, 4.22], [6.05, 1.1, 1.73, 2.18, 2.54, 2.89, 3.5],
  [6.15, 1.08, 1.75, 2.2, 2.56, 2.91, 3.52, 4.25], [6.25, 1.14, 1.77, 2.22, 2.58, 2.93, 3.54],
  [6.35, 1.12, 1.79, 2.24, 2.6, 2.95, 3.56, 4.3], [6.45, 1.18, 1.81, 2.26, 2.62, 2.97, 3.58],
  [6.55, 1.16, 1.83, 2.28, 2.64, 2.99, 3.6, 4.35], [6.65, 1.22, 1.85, 2.3, 2.66, 3.01, 3.62],
  [6.75, 1.2, 1.87, 2.32, 2.68, 3.03, 3.64, 4.4], [6.85, 1.27, 1.9, 2.35, 2.71, 3.06, 3.67],
  [6.95, 1.25, 1.92, 2.37, 2.73, 3.08, 3.7, 4.45], [7.05, 1.32, 1.95, 2.4, 2.76, 3.11, 3.72],
  [7.15, 1.3, 1.97, 2.42, 2.78, 3.13, 3.75, 4.5], [7.25, 1.37, 2.0, 2.45, 2.81, 3.16, 3.78],
  [7.35, 1.35, 2.02, 2.47, 2.83, 3.18, 3.8, 4.55], [7.45, 1.42, 2.05, 2.5, 2.86, 3.21, 3.83],
  [7.55, 1.4, 2.07, 2.52, 2.88, 3.23, 3.85, 4.6], [7.65, 1.47, 2.1, 2.55, 2.91, 3.26, 3.88],
  [7.75, 1.45, 2.12, 2.57, 2.93, 3.28, 3.9, 4.65], [7.85, 1.52, 2.15, 2.6, 2.96, 3.31, 3.93],
  [7.95, 1.5, 2.17, 2.62, 2.98, 3.33, 3.95, 4.7], [8.05, 1.58, 2.2, 2.65, 3.01, 3.36, 3.98],
  [8.15, 1.56, 2.23, 2.68, 3.04, 3.39, 4.01, 4.75], [8.25, 1.64, 2.27, 2.72, 3.08, 3.43, 4.05],
  [8.35, 1.62, 2.3, 2.75, 3.11, 3.46, 4.08, 4.8], [8.45, 1.7, 2.34, 2.79, 3.15, 3.5, 4.12],
  [8.55, 1.68, 2.37, 2.82, 3.18, 3.53, 4.15, 4.85], [8.65, 1.76, 2.41, 2.86, 3.22, 3.57, 4.19],
  [8.75, 1.74, 2.44, 2.89, 3.25, 3.6, 4.22, 4.9], [8.85, 1.82, 2.47, 2.92, 3.28, 3.63, 4.25],
  [8.95, 1.8, 2.5, 2.95, 3.31, 3.66, 4.28, 4.95], [9.05, 1.88, 2.53, 2.98, 3.34, 3.69, 4.3],
  [9.15, 1.86, 2.55, 3.0, 3.36, 3.71, 4.32, 4.95], [9.25, 1.94, 2.58, 3.03, 3.39, 3.74, 4.35],
  [9.35, 1.92, 2.6, 3.05, 3.41, 3.76, 4.37, 4.98], [9.45, 2.0, 2.63, 3.08, 3.44, 3.79, 4.4],
  [9.55, 1.98, 2.65, 3.1, 3.46, 3.81, 4.42, 5.0], [9.65, 2.06, 2.67, 3.12, 3.48, 3.83, 4.44],
  [9.75, 2.04, 2.69, 3.14, 3.5, 3.85, 4.45, 4.98], [9.85, 2.12, 2.71, 3.16, 3.52, 3.87, 4.46],
  [9.95, 2.1, 2.73, 3.18, 3.54, 3.89, 4.48, 4.95], [10.05, 2.2, 2.75, 3.2, 3.56, 3.9, 4.45],
  [10.15, 2.28, 2.78, 3.22, 3.58, 3.92, 4.4], [10.25, 2.36, 2.8, 3.24, 3.6, 3.93, 4.5],
  [10.35, 2.42, 2.83, 3.25, 3.61, 3.95, 4.35], [10.45, 2.5, 2.86, 3.26, 3.62, 3.96],
  [10.55, 2.56, 2.9, 3.28, 3.63, 4.0, 4.4], [10.65, 2.64, 2.95, 3.3, 3.64, 3.98],
  [10.75, 2.72, 3.0, 3.32, 3.66, 4.1]
];
// denser middle of the OLS cloud, same row layout
const olsMid = [
  [-0.32, 0.43, 0.87, 1.28, 1.66], [-0.22, 0.28, 0.71, 1.1, 1.53], [-0.12, 0.41, 1.01, 1.21, 1.81],
  [-0.02, 0.67, 1.1, 1.29, 1.95], [0.08, 0.67, 0.94, 1.54, 1.74], [0.18, 0.45, 0.88, 1.27, 1.7],
  [0.28, 0.66, 1.1, 1.51, 1.89], [0.38, 0.76, 1.03, 1.63, 1.83], [0.48, 0.86, 1.29, 1.48, 2.14],
  [0.58, 0.67, 1.27, 1.47, 2.07], [0.68, 0.6, 1.03, 1.42, 1.85], [0.78, 0.95, 1.38, 1.57, 2.23],
  [0.88, 0.84, 1.28, 1.69, 2.07], [0.98, 0.79, 1.39, 1.59, 2.19], [1.08, 0.97, 1.24, 1.84, 2.04],
  [1.18, 1.07, 1.5, 1.69, 2.35], [1.28, 1.03, 1.3, 1.9, 2.1], [1.38, 0.98, 1.42, 1.83, 2.21],
  [1.48, 0.83, 1.26, 1.65, 2.08], [1.58, 0.96, 1.56, 1.76, 2.36], [1.68, 1.21, 1.64, 1.83, 2.49],
  [1.78, 1.17, 1.44, 2.04, 2.24], [1.88, 0.95, 1.38, 1.77, 2.2], [1.98, 1.15, 1.59, 2.0, 2.38],
  [2.08, 1.25, 1.52, 2.12, 2.32], [2.18, 1.34, 1.77, 1.96, 2.62], [2.28, 1.14, 1.74, 1.94, 2.54],
  [2.38, 1.07, 1.5, 1.89, 2.32], [2.48, 1.41, 1.84, 2.03, 2.69], [2.58, 1.29, 1.73, 2.14, 2.52],
  [2.68, 1.23, 1.83, 2.03, 2.63], [2.78, 1.4, 1.67, 2.27, 2.47], [2.88, 1.49, 1.92, 2.11, 2.77],
  [2.98, 1.44, 1.71, 2.31, 2.51], [3.08, 1.39, 1.83, 2.24, 2.62], [3.18, 1.23, 1.66, 2.05, 2.48],
  [3.28, 1.34, 1.94, 2.14, 2.74], [3.38, 1.58, 2.01, 2.2, 2.86], [3.48, 1.52, 1.79, 2.39, 2.59],
  [3.58, 1.29, 1.72, 2.11, 2.54], [3.68, 1.48, 1.92, 2.33, 2.71], [3.78, 1.57, 1.84, 2.44, 2.64],
  [3.88, 1.65, 2.08, 2.27, 2.93], [3.98, 1.45, 2.05, 2.25, 2.85], [4.08, 1.36, 1.79, 2.18, 2.61],
  [4.18, 1.7, 2.13, 2.32, 2.98], [4.28, 1.57, 2.01, 2.42, 2.8], [4.38, 1.51, 2.11, 2.31, 2.91],
  [4.48, 1.67, 1.94, 2.54, 2.74], [4.58, 1.76, 2.19, 2.38, 3.04], [4.68, 1.7, 1.97, 2.57, 2.77],
  [4.78, 1.65, 2.09, 2.5, 2.88], [4.88, 1.48, 1.91, 2.3, 2.73], [4.98, 1.6, 2.2, 2.4, 3.0],
  [5.08, 1.83, 2.26, 2.45, 3.11], [5.18, 1.77, 2.04, 2.64, 2.84], [5.28, 1.54, 1.97, 2.36, 2.79],
  [5.38, 1.73, 2.17, 2.58, 2.96], [5.48, 1.81, 2.08, 2.68, 2.88], [5.58, 1.89, 2.32, 2.51, 3.17],
  [5.68, 1.69, 2.29, 2.49, 3.09], [5.78, 1.6, 2.03, 2.42, 2.85], [5.88, 1.93, 2.36, 2.55, 3.21],
  [5.98, 1.81, 2.25, 2.66, 3.04], [6.08, 1.75, 2.35, 2.55, 3.15], [6.18, 1.92, 2.19, 2.79, 2.99],
  [6.28, 2.01, 2.44, 2.63, 3.29], [6.38, 1.96, 2.23, 2.83, 3.03], [6.48, 1.91, 2.35, 2.76, 3.14],
  [6.58, 1.75, 2.18, 2.57, 3.0], [6.68, 1.87, 2.47, 2.67, 3.27], [6.78, 2.12, 2.55, 2.74, 3.4],
  [6.88, 2.07, 2.34, 2.94, 3.14], [6.98, 1.85, 2.28, 2.67, 3.1], [7.08, 2.05, 2.49, 2.9, 3.28],
  [7.18, 2.15, 2.42, 3.02, 3.22], [7.28, 2.24, 2.67, 2.86, 3.52], [7.38, 2.05, 2.65, 2.85, 3.45],
  [7.48, 1.97, 2.4, 2.79, 3.22], [7.58, 2.32, 2.75, 2.94, 3.6], [7.68, 2.2, 2.64, 3.05, 3.43],
  [7.78, 2.15, 2.75, 2.95, 3.55], [7.88, 2.32, 2.59, 3.19, 3.39], [7.98, 2.42, 2.85, 3.04, 3.7],
  [8.08, 2.38, 2.65, 3.25, 3.45], [8.18, 2.34, 2.78, 3.19, 3.57], [8.28, 2.19, 2.62, 3.01, 3.44],
  [8.38, 2.32, 2.92, 3.12, 3.72], [8.48, 2.57, 3.0, 3.19, 3.85], [8.58, 2.53, 2.8, 3.4, 3.6],
  [8.68, 2.31, 2.74, 3.13, 3.56], [8.78, 2.52, 2.96, 3.37, 3.75], [8.88, 2.62, 2.89, 3.49, 3.69],
  [8.98, 2.72, 3.15, 3.34, 4.0], [9.08, 2.53, 3.13, 3.33, 3.93], [9.18, 2.45, 2.88, 3.27, 3.7],
  [9.28, 2.8, 3.23, 3.42, 4.08], [9.38, 2.69, 3.13, 3.54, 3.92], [9.48, 2.64, 3.24, 3.44, 4.04],
  [9.58, 2.81, 3.08, 3.68, 3.88], [9.68, 2.91, 3.34, 3.53, 4.19], [9.78, 2.86, 3.13, 3.73, 3.93],
  [9.88, 2.82, 3.26, 3.67, 4.05], [9.98, 2.66, 3.09, 3.48, 3.91], [10.08, 2.78, 3.38, 3.58, 4.18],
  [10.18, 3.02, 3.45, 3.64, 4.3], [10.28, 2.96, 3.23, 3.83, 4.03], [10.38, 2.72, 3.15, 3.54, 3.97],
  [10.48, 2.91, 3.35, 3.76, 4.14], [10.58, 2.99, 3.26, 3.86, 4.06], [10.68, 3.07, 3.5, 3.69, 4.35],
  [10.78, 2.86, 3.46, 3.66]
];
const olsStray = [
  [2.67, 5.73], [3.54, 5.86], [3.4, 5.54], [2.08, 5.06], [2.84, 4.92], [3.33, 5.09], [3.72, 5.0],
  [4.17, 5.42], [4.54, 5.25], [5.44, 6.23], [5.85, 6.07], [7.96, 6.67], [8.4, 6.67], [8.76, 6.67],
  [7.26, 5.97], [7.61, 6.06], [7.94, 5.97], [10.59, 6.35], [10.68, 6.22], [10.68, 5.88], [9.46, 6.1],
  [9.2, 5.98], [9.07, 5.82], [9.34, 5.78], [10.47, 5.6], [10.85, 5.5], [8.67, 5.65], [8.29, 5.67],
  [6.59, 5.69], [6.96, 5.63], [7.07, 5.63], [6.12, 5.53], [6.3, 5.4], [6.7, 5.47], [0.72, 4.75],
  [0.4, 4.31], [0.73, 4.31], [1.01, 4.69], [1.43, 4.47], [1.76, 4.47], [-0.19, 3.4], [-0.23, 3.24],
  [-0.44, 2.86], [-0.3, 2.8], [-0.66, 2.29], [10.85, 3.93], [10.76, 3.3], [10.89, 2.63], [10.12, 2.08],
  [8.46, 1.44], [-0.05, -0.39], [0.19, -0.26], [-0.42, -0.48], [0.61, -0.35], [1.03, -0.2],
  [1.2, 3.9], [2.5, 4.3], [3.9, 4.8], [5.2, 5.1], [5.9, 5.2], [7.3, 5.4], [8.1, 5.5], [9.7, 5.5],
  [10.2, 5.4], [4.9, 4.95], [6.5, 5.05], [1.9, 4.1], [0.3, 3.3], [0.0, 3.6], [10.4, 4.9]
];

const pointColor = '46,134,171';
const fontFamily = '"Liberation Sans", Arial, sans-serif';

function rowPoints(rows) {
  const pts = [];
  rows.forEach(function (r) {
    for (let i = 1; i < r.length; i++) pts.push([r[0], r[i]]);
  });
  return pts;
}
function ctrlPoints(ys) {
  return ys.map(function (y) { return [ctrlX, y]; });
}

function scatter(idx, data, size, fill, stroke, strokeWidth) {
  return {
    type: 'scatter',
    xAxisIndex: idx,
    yAxisIndex: idx,
    data: data,
    symbolSize: size,
    silent: true,
    large: false,
    progressive: 0,
    itemStyle: {
      color: 'rgba(' + pointColor + ',' + fill + ')',
      borderColor: 'rgba(' + pointColor + ',' + stroke + ')',
      borderWidth: strokeWidth,
      opacity: 1
    }
  };
}
function diagonal(idx) {
  return {
    type: 'line',
    xAxisIndex: idx,
    yAxisIndex: idx,
    data: [[xMin, xMin], [xMax, xMax]],
    symbol: 'none',
    silent: true,
    z: 5,
    lineStyle: { color: '#686f76', width: 5, type: [22, 22] }
  };
}

const panels = [
  { left: 235, ctrl: forestCtrlY, rows: forestCore.concat(forestEdge, forestMid), stray: forestStray,
    size: 10, fill: 0.55, stroke: 0.68 },
  { left: 1290, ctrl: olsCtrlY, rows: olsCore.concat(olsFill, olsMid), stray: olsStray,
    size: 11, fill: 0.42, stroke: 0.55 }
];

const chart = echarts.init(document.getElementById('chart'), null, { renderer: 'canvas' });

const grids = [], xAxes = [], yAxes = [], series = [];
panels.forEach(function (p, i) {
  grids.push({ left: p.left, top: 250, width: 1026, height: 730, containLabel: false });
  xAxes.push({
    type: 'value', gridIndex: i, min: xMin, max: xMax,
    axisLine: { show: false },
    axisTick: { show: false, customValues: xTicks },
    splitLine: { show: true, lineStyle: { color: '#e9e9e9', width: 3.5 } },
    axisLabel: { customValues: xTicks, fontSize: 46, color: '#5e5e5e', margin: 16, fontFamily: fontFamily }
  });
  yAxes.push({
    type: 'value', gridIndex: i, min: yMin, max: yMax,
    axisLine: { show: false },
    axisTick: { show: false, customValues: yTicks },
    splitLine: { show: true, lineStyle: { color: '#e9e9e9', width: 3.5 } },
    axisLabel: { show: i === 0, customValues: yTicks, fontSize: 46, color: '#5e5e5e', margin: 29, fontFamily: fontFamily }
  });
  series.push(scatter(i, ctrlPoints(p.ctrl), 10, 0.85, 0.95, 1.5));
  series.push(scatter(i, rowPoints(p.rows), p.size, p.fill, p.stroke, 1.5));
  series.push(scatter(i, p.stray, 8, 0.12, 0.32, 2.2));
  series.push(diagonal(i));
});

const texts = [
  { text: 'Who benefits: forest recovers heterogeneity OLS averages away', x: 1200, y: 105,
    font: 'bold 60px ' + fontFamily, fill: '#333333' },
  { text: panelTitles[0], x: 748, y: 207, font: '46px ' + fontFamily, fill: '#1a1a1a' },
  { text: panelTitles[1], x: 1803, y: 207, font: '46px ' + fontFamily, fill: '#1a1a1a' },
  { text: 'True CATE (R$)', x: 1275, y: 1087, font: '57px ' + fontFamily, fill: '#4d4d4d' }
];
const graphic = texts.map(function (t) {
  return {
    type: 'text', x: t.x, y: t.y, silent: true,
    style: { text: t.text, font: t.font, fill: t.fill, textAlign: 'center', textVerticalAlign: 'middle' }
  };
});
graphic.push({
  type: 'text', x: 105, y: 615, rotation: Math.PI / 2, silent: true,
  style: { text: 'Estimated CATE (R$)', font: '57px ' + fontFamily, fill: '#4d4d4d',
    textAlign: 'center', textVerticalAlign: 'middle' }
});

chart.setOption({
  animation: false,
  backgroundColor: '#ffffff',
  textStyle: { fontFamily: fontFamily },
  grid: grids,
  xAxis: xAxes,
  yAxis: yAxes,
  series: series,
  graphic: graphic
});
</script>
</body>
</html>
